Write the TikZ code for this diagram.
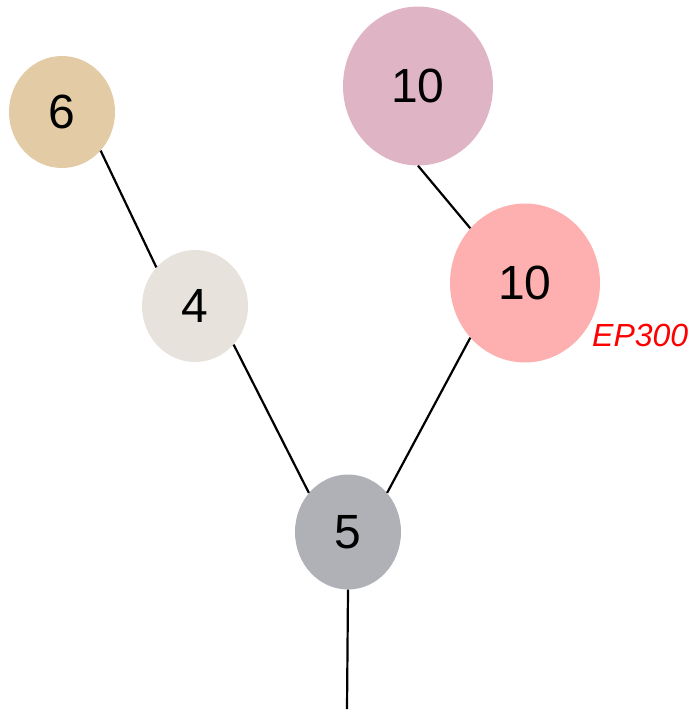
\documentclass[tikz,border=0pt]{standalone}
\usepackage{fontspec}
\setmainfont{Liberation Sans}
\usetikzlibrary{shapes.geometric}
\definecolor{ctan}{HTML}{E2CBA5}
\definecolor{clight}{HTML}{E8E2DD}
\definecolor{cmauve}{HTML}{DFB5C6}
\definecolor{cpink}{HTML}{FEB0B0}
\definecolor{cgrey}{HTML}{B0B1B7}
\tikzset{
  nd/.style={ellipse, inner sep=0pt, font=\fontsize{48}{48}\selectfont},
  small/.style={nd, minimum width=106pt, minimum height=112pt},
  big/.style={nd, minimum width=150pt, minimum height=159pt},
  link/.style={line width=2.2pt, black}
}
\begin{document}
\begin{tikzpicture}[x=1pt,y=-1pt]
\useasboundingbox (0,0) rectangle (691,712);
\node[small, fill=ctan] (n6) at (62,112) {6};
\node[small, fill=clight] (n4) at (195,306) {4};
\node[big, fill=cmauve] (t10) at (418,86) {10};
\node[big, fill=cpink] (r10) at (525,283) {10};
\node[small, fill=cgrey, minimum height=115pt] (n5) at (348,532) {5};
\node[anchor=west, inner sep=0pt, text=red, font=\fontsize{32}{32}\selectfont\itshape] (ep) at (592,335) {EP300};
\coordinate (root) at (347,709);
\draw[link] (n6.-45) -- (n4.135);
\draw[link] (t10.south) -- (r10.135);
\draw[link] (n4.-45) -- (n5.135);
\draw[link] (r10.-135) -- (n5.45);
\draw[link] (n5.south) -- (root);
\end{tikzpicture}
\end{document}
